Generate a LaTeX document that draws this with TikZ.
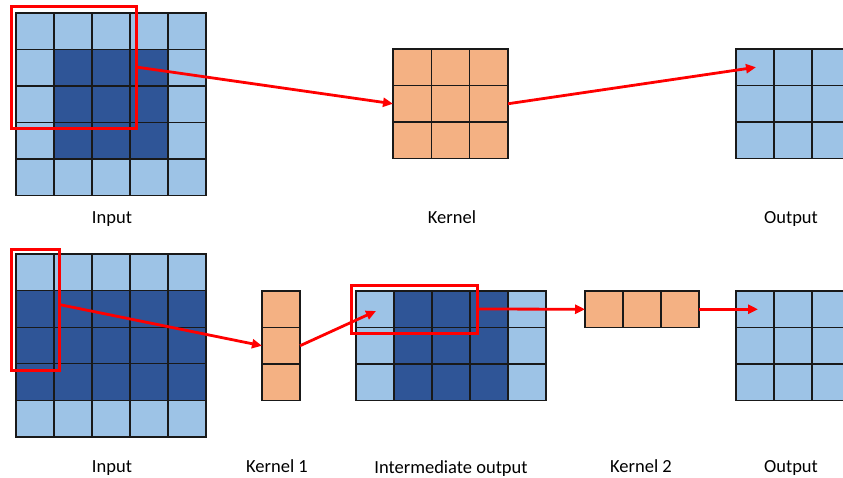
\documentclass[tikz,border=0pt]{standalone}
\usepackage{fontspec}
\setmainfont{Carlito}
\usetikzlibrary{arrows.meta}

\definecolor{lightcell}{HTML}{9DC3E6}
\definecolor{darkcell}{HTML}{2F5597}
\definecolor{kernelcell}{HTML}{F4B183}

\tikzset{
  cell/.style={draw=black!90, line width=1.05pt},
  area/.style={rectangle, inner sep=0pt, outer sep=0pt},
  window/.style={area, draw=red, line width=3pt},
  flow/.style={draw=red, line width=2.8pt, -{Triangle[length=10pt,width=9pt]}},
  caption/.style={font=\fontsize{18.5}{20}\selectfont, anchor=base, inner sep=0pt},
}

% Draw a ncols x nrows array of cells: x0, y0, ncols, nrows, cell width, cell height
\newcommand\drawcells[6]{%
  \pgfmathtruncatemacro\lastcol{#3-1}%
  \pgfmathtruncatemacro\lastrow{#4-1}%
  \foreach \i in {0,...,\lastcol}{%
    \foreach \j in {0,...,\lastrow}{%
      \draw[cell] ({#1+\i*#5},{#2+\j*#6}) rectangle ++(#5,#6);
    }%
  }%
}

\begin{document}
\begin{tikzpicture}[x=1pt,y=-1pt]
  \clip (0,0) rectangle (843,477);
  \fill[white] (0,0) rectangle (843,477);

  % ---------------- Top row: ordinary 3x3 convolution ----------------
  % input 5x5 with padded border
  \fill[lightcell] (16,13) rectangle (206,195);
  \fill[darkcell] (54,49.5) rectangle (168,158.5);
  \drawcells{16}{13}{5}{5}{38}{36.5}
  \node[area, minimum width=190pt, minimum height=182pt] (inA) at (111,104) {};

  % kernel 3x3
  \fill[kernelcell] (393,49) rectangle (508,158.5);
  \drawcells{393}{49}{3}{3}{38.33}{36.5}
  \node[area, minimum width=115pt, minimum height=109.5pt] (kerA) at (450.5,103.75) {};

  % output 3x3
  \fill[lightcell] (736,49) rectangle (850,158.5);
  \drawcells{736}{49}{3}{3}{38}{36.5}
  \coordinate (outA) at (756,67.25);

  % sliding window
  \node[window, minimum width=125pt, minimum height=122pt] (winA) at (73.5,67) {};

  \draw[flow] (winA.east) -- (kerA.west);
  \draw[flow] (kerA.east) -- (outA);

  \node[caption] (capInA) at (112,223.5) {Input};
  \node[caption] (capKerA) at (452,223.5) {Kernel};
  \node[caption] (capOutA) at (791,223.5) {Output};

  % ---------------- Bottom row: separable convolution ----------------
  % input 5x5
  \fill[lightcell] (16,254) rectangle (206,437);
  \fill[darkcell] (16,291) rectangle (206,400.5);
  \drawcells{16}{254}{5}{5}{38}{36.6}
  \node[area, minimum width=190pt, minimum height=183pt] (inB) at (111,345.5) {};

  % kernel 1 (3x1)
  \fill[kernelcell] (262,291) rectangle (300,400.5);
  \drawcells{262}{291}{1}{3}{38}{36.5}
  \node[area, minimum width=38pt, minimum height=109.5pt] (kerB) at (281,345.75) {};

  % intermediate output 5x3
  \fill[lightcell] (356,291) rectangle (546,400.5);
  \fill[darkcell] (394,291) rectangle (508,400.5);
  \drawcells{356}{291}{5}{3}{38}{36.5}
  \node[area, minimum width=190pt, minimum height=109.5pt] (midB) at (451,345.75) {};
  \coordinate (midIn) at (376,311);

  % kernel 2 (1x3)
  \fill[kernelcell] (585,291) rectangle (699,327.5);
  \drawcells{585}{291}{3}{1}{38}{36.5}
  \node[area, minimum width=114pt, minimum height=36.5pt] (kerC) at (642,309.25) {};

  % output 3x3
  \fill[lightcell] (736,291) rectangle (850,400.5);
  \drawcells{736}{291}{3}{3}{38}{36.5}
  \coordinate (outB) at (758,309.25);

  % sliding windows
  \node[window, minimum width=48pt, minimum height=121pt] (winB) at (35,309.5) {};
  \node[window, minimum width=126pt, minimum height=48pt] (winC) at (414,309) {};

  \draw[flow] ([yshift=5pt]winB.east) -- (kerB.west);
  \draw[flow] (kerB.east) -- (midIn);
  \draw[flow] (winC.east) -- (kerC.west);
  \draw[flow] (kerC.east) -- (outB);

  \node[caption] (capInB) at (112,472.5) {Input};
  \node[caption] (capKerB) at (277,472.5) {Kernel 1};
  \node[caption] (capMidB) at (451,473.2) {Intermediate output};
  \node[caption] (capKerC) at (641,472.5) {Kernel 2};
  \node[caption] (capOutB) at (791,472.5) {Output};
\end{tikzpicture}
\end{document}
